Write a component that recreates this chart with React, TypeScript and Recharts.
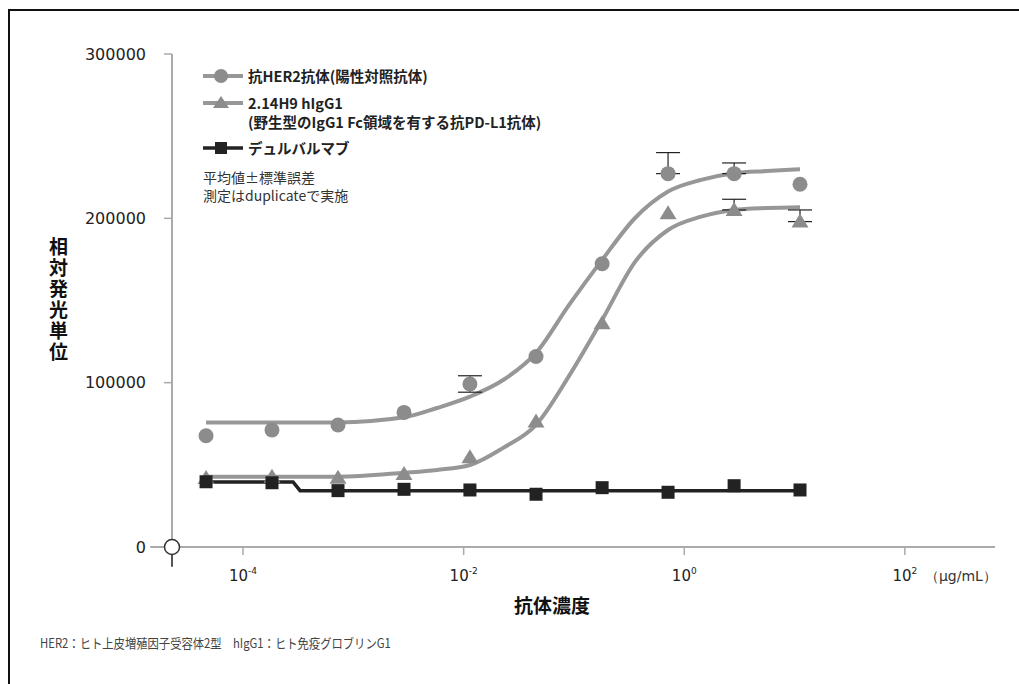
import React from 'react';
import {
  ComposedChart,
  Line,
  Scatter,
  XAxis,
  YAxis,
  ErrorBar,
  ReferenceDot,
  ReferenceLine,
} from 'recharts';

// antibody concentration (µg/mL), 4-fold dilution series
const conc = [0.0000462, 0.000183, 0.000726, 0.00288, 0.0114, 0.0453, 0.18, 0.713, 2.83, 11.2];

// relative luminescence units, mean of duplicates
const her2Rlu = [67700, 71200, 74200, 81900, 99200, 115900, 172400, 227200, 227200, 220700];
const h9Rlu = [42000, 42800, 42200, 44400, 54600, 76300, 136200, 203100, 205100, 198000];
const durvaRlu = [39700, 39100, 34300, 35100, 34700, 32100, 36100, 33300, 37300, 34700];

// SEM (only the bars that are drawn)
const her2SemLow = [0, 0, 0, 0, 5000, 0, 0, 0, 0, 0];
const her2SemHigh = [0, 0, 0, 0, 5000, 0, 0, 12800, 6500, 0];
const h9SemLow = [0, 0, 0, 0, 0, 0, 0, 0, 0, 0];
const h9SemHigh = [0, 0, 0, 0, 0, 0, 0, 0, 6500, 7100];

// fitted curves
const fitConc = [0.0000462, 0.000726, 0.00288, 0.00574, 0.0114, 0.0228, 0.0453, 0.0903, 0.18, 0.358, 0.713, 1.42, 2.83, 5.63, 11.2];
const her2Fit = [75800, 75800, 78900, 84600, 91500, 101600, 118100, 147300, 174700, 200200, 216300, 223400, 227500, 228800, 229900];
const h9Fit = [42800, 42800, 45200, 46900, 49900, 60300, 74300, 104100, 138200, 173500, 192900, 201000, 205100, 206300, 206800];
const durvaFitConc = [0.0000462, 0.000284, 0.000329, 11.2];
const durvaFit = [39600, 39600, 34300, 34300];

const xTicks = [1e-4, 1e-2, 1, 100];
const yTicks = [0, 100000, 200000, 300000];

const X_MIN = 2.27e-5;
const X_MAX = 656;

const GRAY = '#8c8c8c';
const CURVE = '#979797';
const BLACK = '#222';
const AXIS = '#aaa';

const toPoints = (xs: number[], ys: number[]) => xs.map((x, i) => ({ x, y: ys[i] }));

const toErrPoints = (ys: number[], lo: number[], hi: number[]) =>
  conc
    .map((x, i) => ({ x, y: ys[i], err: [lo[i], hi[i]] }))
    .filter((p) => p.err[0] > 0 || p.err[1] > 0);

const her2Pts = toPoints(conc, her2Rlu);
const h9Pts = toPoints(conc, h9Rlu);
const durvaPts = toPoints(conc, durvaRlu);
const her2ErrPts = toErrPoints(her2Rlu, her2SemLow, her2SemHigh);
const h9ErrPts = toErrPoints(h9Rlu, h9SemLow, h9SemHigh);

const CircleDot = (p: any) => <circle cx={p.cx} cy={p.cy} r={7.5} fill={GRAY} />;
const TriangleDot = (p: any) => (
  <path d={`M${p.cx},${p.cy - 8} L${p.cx + 8.5},${p.cy + 6} L${p.cx - 8.5},${p.cy + 6} Z`} fill={GRAY} />
);
const SquareDot = (p: any) => <rect x={p.cx - 6.5} y={p.cy - 6.5} width={13} height={13} fill={BLACK} />;
const NoDot = () => <g />;

const EXP: Record<number, string> = { 0.0001: '-4', 0.01: '-2', 1: '0', 100: '2' };

const ConcTick = (props: any) => {
  const { x, y, payload } = props;
  const v = payload.value;
  return (
    <g>
      <text x={x} y={y + 24} textAnchor="middle" fill="#222" fontSize={15} fontFamily="DejaVu Sans">
        10
        <tspan dy={-7} fontSize={9}>
          {EXP[v]}
        </tspan>
      </text>
      {v === 100 && (
        <text x={x + 20} y={y + 24} fill="#333" fontSize={14} fontFamily="DejaVu Sans">
          （μg/mL）
        </text>
      )}
    </g>
  );
};

const legendText: React.CSSProperties = {
  fontFamily: '"Noto Sans CJK JP", sans-serif',
  fontSize: 14.5,
  fontWeight: 700,
  color: '#222',
  lineHeight: '19px',
};

const LegendIcon = ({ kind }: { kind: 'circle' | 'triangle' | 'square' }) => {
  const color = kind === 'square' ? BLACK : CURVE;
  return (
    <svg width={40} height={16} style={{ position: 'absolute', left: 0, top: -8 }}>
      <line x1={0} y1={8} x2={40} y2={8} stroke={color} strokeWidth={kind === 'square' ? 3.5 : 4} />
      {kind === 'circle' && <circle cx={18} cy={8} r={7} fill={GRAY} />}
      {kind === 'triangle' && <path d="M18,1 L26,13 L10,13 Z" fill={GRAY} />}
      {kind === 'square' && <rect x={12} y={2} width={12} height={12} fill={BLACK} />}
    </svg>
  );
};

const App = () => {
  return (
    <div style={{ position: 'absolute', left: 0, top: 0, width: 1019, height: 684, background: '#fff', overflow: 'hidden' }}>
      <div
        style={{
          position: 'absolute',
          left: 8,
          top: 9,
          width: 1020,
          height: 690,
          borderTop: '2px solid #111',
          borderLeft: '2px solid #111',
        }}
      />
      <div style={{ position: 'absolute', left: 0, top: 0 }}>
        <ComposedChart width={1019} height={684} margin={{ top: 54, right: 24, left: 112, bottom: 107 }}>
          <XAxis
            type="number"
            dataKey="x"
            scale="log"
            domain={[X_MIN, X_MAX]}
            allowDataOverflow
            ticks={xTicks}
            tickSize={8}
            height={30}
            axisLine={{ stroke: AXIS, strokeWidth: 2 }}
            tickLine={{ stroke: AXIS, strokeWidth: 1.5 }}
            tick={<ConcTick />}
          />
          <YAxis
            type="number"
            dataKey="y"
            domain={[0, 300000]}
            ticks={yTicks}
            width={60}
            tickSize={8}
            tickMargin={18}
            axisLine={{ stroke: AXIS, strokeWidth: 2 }}
            tickLine={{ stroke: AXIS, strokeWidth: 1.5 }}
            tick={{ fill: '#222', fontSize: 16, fontFamily: 'DejaVu Sans' }}
          />
          {/* axis extensions around the origin */}
          <ReferenceLine
            segment={[{ x: 1.44e-5, y: 0 }, { x: X_MIN, y: 0 }]}
            stroke={AXIS}
            strokeWidth={2}
            ifOverflow="visible"
          />
          <ReferenceLine
            segment={[{ x: X_MIN, y: -12000 }, { x: X_MIN, y: 10000 }]}
            stroke="#555"
            strokeWidth={2}
            ifOverflow="visible"
          />

          <Line data={toPoints(fitConc, her2Fit)} dataKey="y" type="monotone" stroke={CURVE} strokeWidth={4} dot={false} isAnimationActive={false} />
          <Line data={toPoints(fitConc, h9Fit)} dataKey="y" type="monotone" stroke={CURVE} strokeWidth={4} dot={false} isAnimationActive={false} />
          <Line data={toPoints(durvaFitConc, durvaFit)} dataKey="y" type="linear" stroke={BLACK} strokeWidth={3.5} dot={false} isAnimationActive={false} />

          <Scatter data={her2ErrPts} shape={NoDot} isAnimationActive={false}>
            <ErrorBar dataKey="err" direction="y" width={12} stroke={BLACK} strokeWidth={1.2} />
          </Scatter>
          <Scatter data={h9ErrPts} shape={NoDot} isAnimationActive={false}>
            <ErrorBar dataKey="err" direction="y" width={12} stroke={BLACK} strokeWidth={1.2} />
          </Scatter>

          <Scatter data={her2Pts} shape={CircleDot} isAnimationActive={false} />
          <Scatter data={h9Pts} shape={TriangleDot} isAnimationActive={false} />
          <Scatter data={durvaPts} shape={SquareDot} isAnimationActive={false} />

          <ReferenceDot x={X_MIN} y={0} r={7.5} fill="#fff" stroke="#333" strokeWidth={1.5} ifOverflow="visible" />
        </ComposedChart>
      </div>

      {/* legend */}
      <div style={{ position: 'absolute', left: 203, top: 76 }}>
        <LegendIcon kind="circle" />
        <div style={{ ...legendText, position: 'absolute', left: 45, top: -10, whiteSpace: 'nowrap' }}>
          抗HER2抗体(陽性対照抗体)
        </div>
      </div>
      <div style={{ position: 'absolute', left: 203, top: 103 }}>
        <LegendIcon kind="triangle" />
        <div style={{ ...legendText, position: 'absolute', left: 45, top: -10, whiteSpace: 'nowrap' }}>
          2.14H9 hIgG1
          <br />
          (野生型のIgG1 Fc領域を有する抗PD-L1抗体)
        </div>
      </div>
      <div style={{ position: 'absolute', left: 203, top: 148 }}>
        <LegendIcon kind="square" />
        <div style={{ ...legendText, position: 'absolute', left: 45, top: -10, whiteSpace: 'nowrap' }}>
          デュルバルマブ
        </div>
      </div>
      <div
        style={{
          position: 'absolute',
          left: 203,
          top: 168,
          fontFamily: '"Noto Sans CJK JP", sans-serif',
          fontSize: 14,
          color: '#333',
          lineHeight: '18px',
          whiteSpace: 'nowrap',
        }}
      >
        平均値±標準誤差
        <br />
        測定はduplicateで実施
      </div>

      {/* axis titles */}
      <div
        style={{
          position: 'absolute',
          left: 45,
          top: 237,
          writingMode: 'vertical-rl',
          fontFamily: '"Noto Sans CJK JP", sans-serif',
          fontSize: 19,
          fontWeight: 700,
          letterSpacing: 2,
          color: '#111',
        }}
      >
        相対発光単位
      </div>
      <div
        style={{
          position: 'absolute',
          left: 514,
          top: 591,
          fontFamily: '"Noto Sans CJK JP", sans-serif',
          fontSize: 19,
          fontWeight: 700,
          color: '#111',
          whiteSpace: 'nowrap',
        }}
      >
        抗体濃度
      </div>

      <div
        style={{
          position: 'absolute',
          left: 40,
          top: 633,
          fontFamily: '"Noto Sans CJK JP", sans-serif',
          fontSize: 13,
          color: '#444',
          whiteSpace: 'nowrap',
          transform: 'scaleX(0.87)',
          transformOrigin: 'left center',
        }}
      >
        HER2：ヒト上皮増殖因子受容体2型　hIgG1：ヒト免疫グロブリンG1
      </div>
    </div>
  );
};

export default App;
